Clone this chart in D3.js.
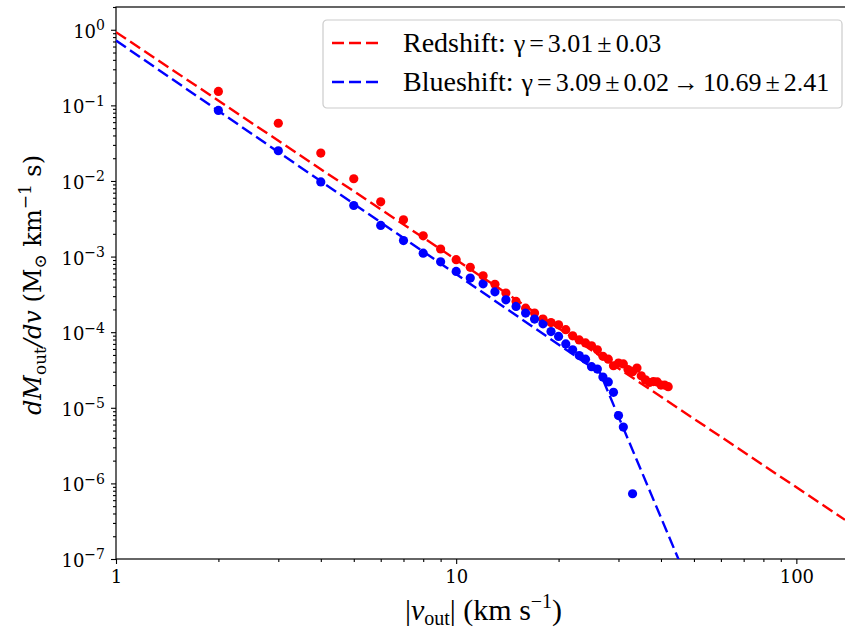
<!DOCTYPE html>
<html>
<head>
<meta charset="utf-8">
<script src="https://cdn.jsdelivr.net/npm/d3@7"></script>
<style>
  body { margin: 0; background: #fff; }
  svg { display: block; }
</style>
</head>
<body>
<div id="chart"></div>
<script>
// data
var redV = [2, 3, 4, 5, 6, 7, 8, 9, 10, 11, 12, 13, 14, 15, 16, 17, 18, 19, 20, 21,
            22, 23, 24, 25, 26, 27, 28, 29, 30, 31, 32, 33, 34, 35, 36, 37, 38, 39, 40, 41, 42];
var redM = [0.153, 0.058, 0.0234, 0.0107, 0.0053, 0.00307, 0.00188, 0.00126, 0.00091, 0.00072,
            0.000557, 0.00043, 0.00033, 0.000255, 0.000208, 0.000179, 0.000149, 0.000134, 0.000125, 0.000108,
            8.96e-5, 7.9e-5, 7.2e-5, 6.6e-5, 5.85e-5, 4.8e-5, 4.4e-5, 3.6e-5, 3.9e-5, 3.8e-5,
            3.2e-5, 3.0e-5, 3.35e-5, 2.65e-5, 2.34e-5, 2.16e-5, 2.22e-5, 2.2e-5, 2.0e-5, 2.0e-5, 1.9e-5];
var blueV = [2, 3, 4, 5, 6, 7, 8, 9, 10, 11, 12, 13, 14, 15, 16, 17, 18, 19, 20, 21,
             22, 23, 24, 25, 26, 27, 28, 29, 30, 31, 33];
var blueM = [0.0857, 0.0251, 0.0097, 0.00474, 0.00258, 0.00163, 0.00111, 0.000853, 0.000636, 0.00052,
             0.000436, 0.000342, 0.000268, 0.000219, 0.000179, 0.000149, 0.000129, 0.000102, 8.8e-5, 7.0e-5,
             5.85e-5, 4.9e-5, 4.4e-5, 3.5e-5, 3.25e-5, 2.55e-5, 2.2e-5, 1.6e-5, 7.9e-6, 5.56e-6, 7.3e-7];

// fitted power laws: [amplitude at v=1, slope] and the broken blue one
var redFit = [0.93, 3.01];
var blueFit = [0.72, 3.09, 26.5, 10.69];   // amp, slope1, break, slope2
var redFitV = [1, 139];
var blueFitV = [1, 26.5, 60];

var xTicks = [1, 10, 100];
var xTickLabels = ["1", "10", "100"];
var yTickExp = [0, -1, -2, -3, -4, -5, -6, -7];

var legendLabels = [
  { name: "Redshift:", math: ["\u03b3", "=", "3.01", "\u00b1", "0.03"] },
  { name: "Blueshift:", math: ["\u03b3", "=", "3.09", "\u00b1", "0.02", "\u2192", "10.69", "\u00b1", "2.41"] }
];

// set the dimensions and margins of the graph
var margin = {top: 7, right: 0, bottom: 78, left: 116},
    width = 845 - margin.left - margin.right,
    height = 637 - margin.top - margin.bottom;

var svg = d3.select("#chart")
  .append("svg")
    .attr("width", 845)
    .attr("height", 637)
  .append("g")
    .attr("transform", "translate(" + margin.left + "," + margin.top + ")");

svg.append("clipPath").attr("id", "plotclip")
  .append("rect").attr("width", width).attr("height", height);

var x = d3.scaleLog().domain([1, 139]).range([0, width]);
var y = d3.scaleLog().domain([1e-7, 2.0]).range([height, 0]);

// minor tick positions
var xMinor = [];
[1, 10, 100].forEach(function(d) {
  for (var k = 2; k <= 9; k++) if (d * k <= 139) xMinor.push(d * k);
});
var yMinor = [];
yTickExp.forEach(function(e) {
  for (var k = 2; k <= 9; k++) if (k * Math.pow(10, e) <= 2.0) yMinor.push(k * Math.pow(10, e));
});

var tickFont = "DejaVu Serif";

// X axis
svg.append("g")
  .attr("transform", "translate(0," + height + ")")
  .call(d3.axisBottom(x).tickValues(xMinor).tickSize(3).tickFormat(""))
  .call(function(g) { g.select(".domain").remove(); });
var xAxis = svg.append("g")
  .attr("transform", "translate(0," + height + ")")
  .call(d3.axisBottom(x).tickValues(xTicks).tickSize(5).tickPadding(6)
        .tickFormat(function(d, i) { return xTickLabels[i]; }));
xAxis.select(".domain").remove();
xAxis.selectAll("text")
  .style("font-family", tickFont)
  .style("font-size", "18px")
  .attr("fill", "#000");

// Y axis
svg.append("g")
  .call(d3.axisLeft(y).tickValues(yMinor).tickSize(3).tickFormat(""))
  .call(function(g) { g.select(".domain").remove(); });
var yAxis = svg.append("g")
  .call(d3.axisLeft(y).tickValues(yTickExp.map(function(e) { return Math.pow(10, e); }))
        .tickSize(5).tickPadding(6).tickFormat(""));
yAxis.select(".domain").remove();
yAxis.selectAll(".tick").each(function(d, i) {
  var t = d3.select(this).select("text")
    .style("font-family", tickFont)
    .style("font-size", "18px")
    .attr("fill", "#000")
    .attr("dy", "0.42em");
  t.append("tspan").text("10");
  t.append("tspan").attr("dy", "-0.55em").style("font-size", "14px")
    .text(yTickExp[i] === 0 ? "0" : "\u2212" + Math.abs(yTickExp[i]));
});
svg.selectAll(".tick line").attr("stroke", "#000").attr("stroke-width", 1.1);

// spines
svg.append("rect")
  .attr("width", width + 2).attr("height", height)
  .attr("fill", "none").attr("stroke", "#000").attr("stroke-width", 1.2);

var plot = svg.append("g").attr("clip-path", "url(#plotclip)");

// fit lines
var line = d3.line()
  .x(function(d) { return x(d[0]); })
  .y(function(d) { return y(d[1]); });

var redLine = redFitV.map(function(v) { return [v, redFit[0] * Math.pow(v, -redFit[1])]; });
var blueAt = function(v) {
  if (v <= blueFit[2]) return blueFit[0] * Math.pow(v, -blueFit[1]);
  return blueFit[0] * Math.pow(blueFit[2], -blueFit[1]) * Math.pow(v / blueFit[2], -blueFit[3]);
};
var blueLine = blueFitV.map(function(v) { return [v, blueAt(v)]; });

// points
plot.selectAll("redpt")
  .data(redV.map(function(v, i) { return [v, redM[i]]; }))
  .enter()
  .append("circle")
    .attr("cx", function(d) { return x(d[0]); })
    .attr("cy", function(d) { return y(d[1]); })
    .attr("r", 4.6)
    .style("fill", "#ff0000");

plot.selectAll("bluept")
  .data(blueV.map(function(v, i) { return [v, blueM[i]]; }))
  .enter()
  .append("circle")
    .attr("cx", function(d) { return x(d[0]); })
    .attr("cy", function(d) { return y(d[1]); })
    .attr("r", 4.6)
    .style("fill", "#0000ff");

plot.append("path").datum(redLine)
  .attr("d", line).attr("fill", "none")
  .attr("stroke", "#ff0000").attr("stroke-width", 2.4).attr("stroke-dasharray", "12,5");
plot.append("path").datum(blueLine)
  .attr("d", line).attr("fill", "none")
  .attr("stroke", "#0000ff").attr("stroke-width", 2.4).attr("stroke-dasharray", "12,5");

// legend
var legend = svg.append("g").attr("transform", "translate(" + (323 - margin.left) + "," + (20 - margin.top) + ")");
legend.append("rect")
  .attr("width", 519).attr("height", 88).attr("rx", 4)
  .attr("fill", "#fff").attr("fill-opacity", 0.8)
  .attr("stroke", "#cccccc").attr("stroke-width", 1.2);

var legendColors = ["#ff0000", "#0000ff"];
var isOp = function(m) { return m === "=" || m === "\u00b1" || m === "\u2192"; };
legendLabels.forEach(function(d, i) {
  var cy = 23 + i * 39;
  legend.append("line")
    .attr("x1", 9).attr("x2", 59).attr("y1", cy).attr("y2", cy)
    .attr("stroke", legendColors[i]).attr("stroke-width", 2.4).attr("stroke-dasharray", "12,5");
  var t = legend.append("text")
    .attr("x", 80).attr("y", cy + 9)
    .style("font-family", "Liberation Serif")
    .style("font-size", "28px")
    .attr("fill", "#000");
  t.append("tspan").text(d.name);
  d.math.forEach(function(m, j) {
    var gap = j === 0 ? 8 : ((isOp(m) || isOp(d.math[j - 1])) ? 4 : 0);
    t.append("tspan").attr("dx", gap)
      .style("font-size", "26px")
      .text(m);
  });
});

// axis labels
var xl = svg.append("text")
  .attr("x", width / 2 + 3).attr("y", height + 61)
  .attr("text-anchor", "middle")
  .style("font-family", "Liberation Serif")
  .style("font-size", "30px")
  .attr("fill", "#000");
xl.append("tspan").text("|");
xl.append("tspan").style("font-style", "italic").text("v");
xl.append("tspan").attr("dy", 5).style("font-size", "20px").text("out");
xl.append("tspan").attr("dy", -5).text("| (km s");
xl.append("tspan").attr("dy", -12).style("font-size", "20px").text("\u22121");
xl.append("tspan").attr("dy", 12).text(")");

var yl = svg.append("text")
  .attr("transform", "translate(" + (-75) + "," + (height / 2 + 2) + ")rotate(-90)")
  .attr("text-anchor", "middle")
  .style("font-family", "DejaVu Serif")
  .style("font-size", "24px")
  .attr("fill", "#000");
yl.append("tspan").style("font-style", "italic").text("dM");
yl.append("tspan").attr("dy", 5).style("font-size", "17px").text("out");
yl.append("tspan").attr("dy", -5).style("font-style", "italic").text("/dv");
yl.append("tspan").text(" (M");
yl.append("tspan").attr("dy", 5).style("font-size", "17px").text("\u2299");
yl.append("tspan").attr("dy", -5).text(" km");
yl.append("tspan").attr("dy", -10).style("font-size", "17px").text("\u22121");
yl.append("tspan").attr("dy", 10).text(" s)");
</script>
</body>
</html>
